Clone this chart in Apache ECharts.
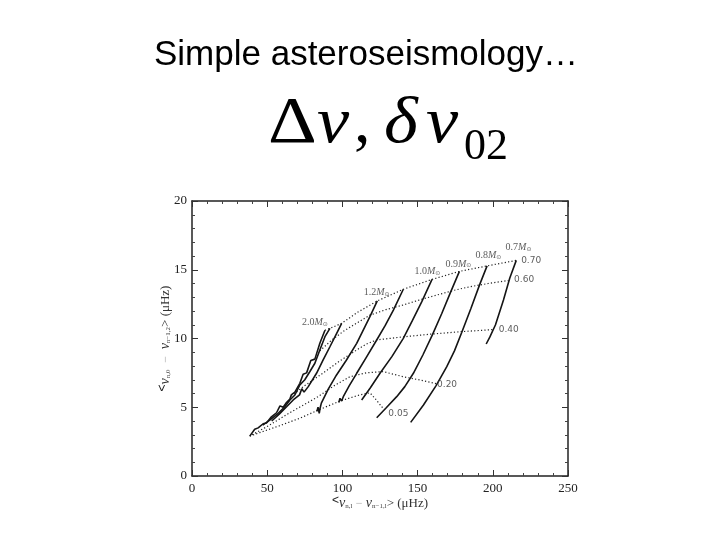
<!DOCTYPE html>
<html>
<head>
<meta charset="utf-8">
<script src="https://cdn.jsdelivr.net/npm/echarts@6/dist/echarts.min.js"></script>
<style>html,body{margin:0;padding:0;background:#fff;}#c{width:720px;height:540px;}</style>
</head>
<body>
<div id="c"></div>
<script>
// ---- axis ticks ----
const xTicks = [0, 50, 100, 150, 200, 250];
const yTicks = [0, 5, 10, 15, 20];

// ---- evolutionary tracks (solid): [large separation, small separation] ----
const track07 = [[215.6,15.68],[211.3,14.4],[207.1,12.8],[201.8,11.0],[198.0,10.1],[195.6,9.6]];
const track08 = [[196.2,15.28],[191.2,13.9],[185.5,12.2],[179.4,10.45],[174.5,9.1],[169.4,7.95],[162.3,6.57],[153.9,5.16],[145.4,3.9]];
const track09 = [[177.8,14.88],[171.6,13.28],[166.0,11.8],[159.9,10.28],[153.5,8.8],[147.2,7.47],[141.5,6.5],[136.1,5.77],[129.0,4.95],[122.8,4.24]];
const track10 = [[159.6,14.3],[152.8,12.68],[146.5,11.3],[140.5,10.01],[133.0,8.7],[125.0,7.47],[118.5,6.4],[112.8,5.53]];
const track11 = [[140.5,13.58],[133.9,12.07],[128.5,10.95],[122.8,9.89],[116.0,8.65],[109.5,7.47],[104.5,6.55],[100.6,5.77],[99.5,5.45],[98.4,5.65],[97.6,5.35]];
const track12 = [[123.2,12.73],[118.3,11.59],[109.5,9.65],[102.5,8.4],[96.1,7.35],[90.5,6.3],[86.0,5.3],[85.2,4.95],[84.6,4.55],[83.8,5.0],[83.0,4.7]];
const track15 = [[99.5,11.1],[96.2,10.38],[91.7,9.4],[87.2,8.44],[82.8,7.47],[77.3,6.5],[74.5,6.1],[73.0,6.35],[71.5,5.9],[67.3,5.53],[62.9,5.04],[58.0,4.5],[53.0,4.0]];
const track17 = [[91.7,10.74],[88.4,10.13],[85.0,9.16],[81.7,8.2],[78.4,7.6],[75.0,7.0],[71.7,6.62],[68.4,5.89],[65.1,5.53],[61.7,5.04],[57.3,4.56],[51.7,4.07],[47.0,3.7]];
const track20 = [[88.4,10.6],[85.0,9.65],[81.7,8.5],[79.0,8.4],[76.2,7.5],[73.9,7.4],[71.7,6.74],[68.4,6.1],[66.0,5.9],[65.1,5.6],[62.5,5.3],[60.6,5.0],[58.5,5.1],[56.2,4.6],[52.8,4.3],[49.5,3.85],[47.3,3.8],[44.0,3.5],[41.7,3.4],[38.4,2.9]];

// ---- isopleths of central hydrogen abundance (dotted) ----
const iso070 = [[88.4,10.6],[91.7,10.74],[99.5,11.1],[110.0,11.9],[123.2,12.73],[140.5,13.58],[159.6,14.3],[177.8,14.88],[196.2,15.28],[215.6,15.68]];
const iso060 = [[85.0,9.1],[93.0,9.9],[101.0,10.55],[110.0,11.15],[118.3,11.7],[129.0,12.1],[140.5,12.44],[152.0,12.83],[162.8,13.16],[174.0,13.5],[185.0,13.77],[197.0,14.0],[210.5,14.22]];
const iso040 = [[66.0,5.8],[74.0,6.5],[86.0,7.4],[98.0,8.35],[110.0,9.2],[116.0,9.6],[122.8,9.9],[140.5,10.12],[159.9,10.33],[179.4,10.5],[200.5,10.65]];
const iso020 = [[40.0,3.0],[50.0,3.6],[65.0,4.6],[82.8,5.7],[95.0,6.6],[105.0,7.22],[116.1,7.51],[127.2,7.59],[140.5,7.22],[151.6,6.98],[163.2,6.7]];
const iso005 = [[38.4,2.9],[45.0,3.15],[58.0,3.65],[71.7,4.2],[84.0,4.8],[98.4,5.45],[111.7,5.9],[118.3,6.05],[122.0,5.6],[126.8,4.95]];

// ---- annotations: text and anchor in data units ----
const massLabels = ['0.7', '0.8', '0.9', '1.0', '1.2', '2.0'];
const massAnchors = [[217.1,16.7],[197.1,16.15],[177.1,15.5],[156.5,14.98],[122.8,13.4],[81.7,11.27]];
const xcLabels = ['0.70', '0.60', '0.40', '0.20', '0.05'];
const xcAnchors = [[225.5,15.66],[220.8,14.25],[210.6,10.62],[169.6,6.62],[137.2,4.5]];

const tracks = [track07, track08, track09, track10, track11, track12, track15, track17, track20];
const isos = [iso070, iso060, iso040, iso020, iso005];

const chart = echarts.init(document.getElementById('c'), null, {renderer: 'canvas'});
const INK = '#151515';
const SERIF = 'Liberation Serif';

function mkX(pos, showLabel, extra) {
  return Object.assign({
    type: 'value', position: pos, min: xTicks[0], max: xTicks[xTicks.length - 1],
    interval: xTicks[1] - xTicks[0],
    axisLine: {show: true, onZero: false, lineStyle: {color: '#222', width: 1.5}},
    axisTick: {show: true, inside: true, length: 6, lineStyle: {color: '#333', width: 1}},
    minorTick: {show: true, splitNumber: 5, length: 3, lineStyle: {color: '#444', width: 1}},
    splitLine: {show: false},
    axisLabel: {show: showLabel, color: '#222', fontFamily: SERIF, fontSize: 13, margin: 6}
  }, extra || {});
}
function mkY(pos, showLabel, extra) {
  return Object.assign({
    type: 'value', position: pos, min: yTicks[0], max: yTicks[yTicks.length - 1],
    interval: yTicks[1] - yTicks[0],
    axisLine: {show: true, onZero: false, lineStyle: {color: '#222', width: 1.5}},
    axisTick: {show: true, inside: true, length: 6, lineStyle: {color: '#333', width: 1}},
    minorTick: {show: true, splitNumber: 5, length: 3, lineStyle: {color: '#444', width: 1}},
    splitLine: {show: false},
    axisLabel: {show: showLabel, color: '#222', fontFamily: SERIF, fontSize: 13, margin: 5}
  }, extra || {});
}

const nameRich = {
  b: {fontFamily: SERIF, fontSize: 13, color: '#333', lineHeight: 18, verticalAlign: 'bottom'},
  i: {fontFamily: SERIF, fontStyle: 'italic', fontSize: 14, color: '#333', lineHeight: 18, verticalAlign: 'bottom'},
  s: {fontFamily: SERIF, fontSize: 7, color: '#444', lineHeight: 14, verticalAlign: 'bottom'},
  m: {fontFamily: SERIF, fontSize: 12, color: '#aaa', lineHeight: 18, verticalAlign: 'bottom'}
};

const series = [];
tracks.forEach(function (t) {
  series.push({type: 'line', data: t, showSymbol: false, silent: true,
    lineStyle: {color: INK, width: 1.6}, z: 3});
});
isos.forEach(function (t) {
  series.push({type: 'line', data: t, showSymbol: false, silent: true,
    lineStyle: {color: '#222', width: 1.2, type: [1.2, 2.2]}, z: 2});
});
series.push({
  type: 'scatter', symbolSize: 0, silent: true, z: 5,
  data: massAnchors.map(function (p, k) { return {value: p, name: massLabels[k]}; }),
  label: {show: true, position: 'inside',
    formatter: function (p) { return '{n|' + p.name + '}{m|M}{s|\u2299}'; },
    rich: {
      n: {fontFamily: SERIF, fontSize: 10, color: '#333', lineHeight: 12, verticalAlign: 'bottom'},
      m: {fontFamily: SERIF, fontStyle: 'italic', fontSize: 10, color: '#333', lineHeight: 12, verticalAlign: 'bottom'},
      s: {fontFamily: 'DejaVu Sans', fontSize: 6, color: '#333', lineHeight: 9, verticalAlign: 'bottom'}
    }
  }
});
series.push({
  type: 'scatter', symbolSize: 0, silent: true, z: 5,
  data: xcAnchors.map(function (p, k) { return {value: p, name: xcLabels[k]}; }),
  label: {show: true, position: 'inside', formatter: '{b}',
    fontFamily: 'DejaVu Sans', fontSize: 9, color: '#333'}
});

const MY = 125;
const option = {
  backgroundColor: '#ffffff',
  animation: false,
  grid: {left: 192, right: 152, top: 201, bottom: 64, containLabel: false},
  xAxis: [
    mkX('bottom', true, {
      name: '<{i|\u03bd}{s|n,l} {m|\u2212} {i|\u03bd}{s|n\u22121,l}{b|> (\u03bcHz)}',
      nameLocation: 'middle', nameGap: 16, nameMoveOverlap: false,
      nameTextStyle: {rich: nameRich}
    }),
    mkX('top', false)
  ],
  yAxis: [
    mkY('left', true, {
      name: '<{i|\u03bd}{s|n,0}  {m|\u2212}  {i|\u03bd}{s|n\u22121,2}{b|> (\u03bcHz)}',
      nameLocation: 'middle', nameGap: 20, nameMoveOverlap: false,
      nameTextStyle: {rich: nameRich}
    }),
    mkY('right', false)
  ],
  series: series,
  graphic: [
    {type: 'text', x: 366, y: 55, silent: true,
      style: {text: 'Simple asteroseismology\u2026', font: '35px "Liberation Sans"', fill: '#000',
        align: 'center', verticalAlign: 'middle'}},
    {type: 'text', x: 268, y: MY, scaleX: 1.15, silent: true,
      style: {text: '\u0394', font: '66px "Liberation Serif"', fill: '#000', align: 'left', verticalAlign: 'middle'}},
    {type: 'text', x: 317, y: MY, scaleX: 1.1, silent: true,
      style: {text: '\u03bd', font: 'italic 66px "Liberation Serif"', fill: '#000', align: 'left', verticalAlign: 'middle'}},
    {type: 'text', x: 354, y: MY, silent: true,
      style: {text: ',', font: '66px "Liberation Serif"', fill: '#000', align: 'left', verticalAlign: 'middle'}},
    {type: 'text', x: 384, y: MY, scaleX: 1.1, silent: true,
      style: {text: '\u03b4', font: 'italic 66px "Liberation Serif"', fill: '#000', align: 'left', verticalAlign: 'middle'}},
    {type: 'text', x: 426, y: MY, scaleX: 1.1, silent: true,
      style: {text: '\u03bd', font: 'italic 66px "Liberation Serif"', fill: '#000', align: 'left', verticalAlign: 'middle'}},
    {type: 'text', x: 464, y: MY + 22, silent: true,
      style: {text: '02', font: '44px "Liberation Serif"', fill: '#000', align: 'left', verticalAlign: 'middle'}}
  ]
};
chart.setOption(option);
</script>
</body>
</html>
